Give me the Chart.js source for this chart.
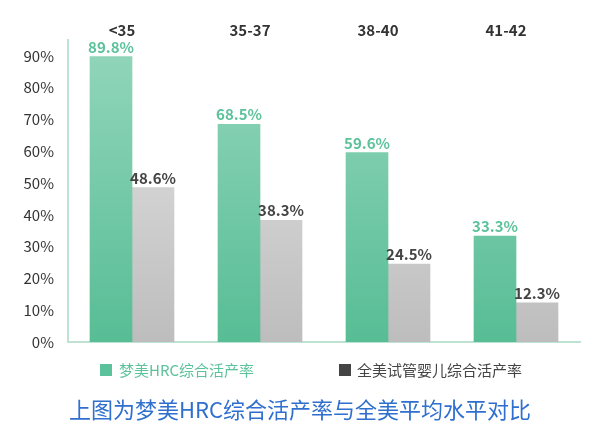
<!DOCTYPE html>
<html><head><meta charset="utf-8">
<script src="https://cdn.jsdelivr.net/npm/chart.js@4"></script>
<style>html,body{margin:0;padding:0;background:#fff}#w{width:600px;height:426px}</style>
</head><body><div id="w"><canvas id="c"></canvas></div>
<script>
const categories = ["<35","35-37","38-40","41-42"];
const hrcValues = [89.8,68.5,59.6,33.3];
const usValues = [48.6,38.3,24.5,12.3];
const seriesNames = ["梦美HRC综合活产率","全美试管婴儿综合活产率"];
const yTicks = [0,10,20,30,40,50,60,70,80,90];
const titleText = "上图为梦美HRC综合活产率与全美平均水平对比";
const FONT = "'Noto Sans CJK SC','Noto Sans',sans-serif";

function grad(ctx, c1, c2){
  const ca = ctx.chart.chartArea; if(!ca) return c1;
  const g = ctx.chart.ctx.createLinearGradient(0, ca.bottom, 0, ca.top);
  g.addColorStop(0,c1); g.addColorStop(1,c2); return g;
}
const overlay = {
  id:'overlay',
  afterDatasetsDraw(chart){
    const {ctx} = chart; const xs = chart.scales.x;
    ctx.save();
    ctx.textAlign='center'; ctx.textBaseline='middle';
    ctx.font = "bold 15px "+FONT; ctx.fillStyle='#333';
    categories.forEach((c,i)=>ctx.fillText(c, xs.getPixelForValue(i)-10, 30));
    chart.data.datasets.forEach((ds,di)=>{
      const meta = chart.getDatasetMeta(di);
      meta.data.forEach((b,i)=>{
        ctx.font = "bold 15px "+FONT;
        ctx.fillStyle = di===0 ? '#5cc29c' : '#444';
        ctx.textBaseline='bottom';
        ctx.fillText(ds.data[i].toFixed(1)+'%', b.x, b.y-2);
      });
    });
    ctx.textBaseline='middle'; ctx.textAlign='left';
    ctx.font = "15px "+FONT;
    ctx.fillStyle='#5cc29c'; ctx.fillRect(100,364,12,12);
    ctx.fillText(seriesNames[0],119,370);
    ctx.fillStyle='#444'; ctx.fillRect(339,364,12,12);
    ctx.fillText(seriesNames[1],357,370);
    ctx.textAlign='center'; ctx.font = "22px "+FONT; ctx.fillStyle='#2f6fce';
    ctx.fillText(titleText,300,410);
    ctx.restore();
  }
};
new Chart(document.getElementById('c'),{
  type:'bar',
  data:{labels:categories,datasets:[
    {label:seriesNames[0],data:hrcValues,
     backgroundColor:ctx=>grad(ctx,'#57bd95','#93d6bc'),barThickness:42},
    {label:seriesNames[1],data:usValues,
     backgroundColor:ctx=>grad(ctx,'#bdbdbd','#e6e6e6'),barThickness:42}
  ]},
  options:{
    responsive:true,maintainAspectRatio:false,animation:false,
    layout:{padding:{left:0,right:20,top:40,bottom:76}},
    datasets:{bar:{categoryPercentage:0.8,barPercentage:0.9}},
    plugins:{legend:{display:false},tooltip:{enabled:false}},
    scales:{
      x:{grid:{display:false},border:{color:'#bfe3d3',width:2},ticks:{display:false}},
      y:{min:0,max:95,grid:{display:false},border:{color:'#bfe3d3',width:2},
         afterBuildTicks:s=>{s.ticks=yTicks.map(v=>({value:v}));},
         afterFit:s=>{s.width=68;},
         ticks:{callback:v=>v+'%',color:'#333',font:{size:15,family:FONT},padding:6}}
    }
  },
  plugins:[overlay]
});
</script></body></html>
